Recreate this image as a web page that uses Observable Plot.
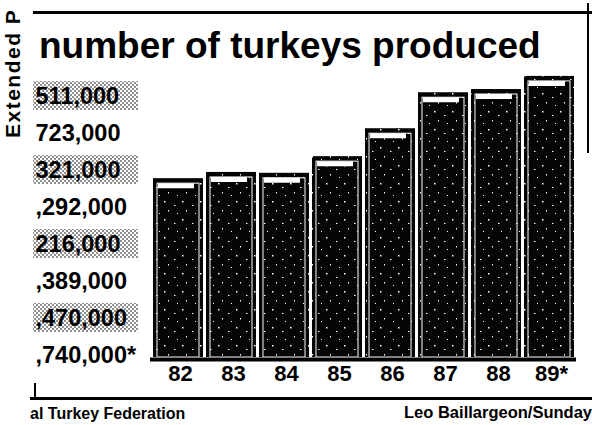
<!DOCTYPE html>
<html><head><meta charset="utf-8">
<script src="https://cdn.jsdelivr.net/npm/d3@7"></script>
<script src="https://cdn.jsdelivr.net/npm/@observablehq/plot@0.6"></script>
<style>
html,body{margin:0;padding:0;background:#fff;}
#wrap{position:relative;width:592px;height:425px;overflow:hidden;font-family:"Liberation Sans",Arial,sans-serif;color:#000;background:#fff;}
.abs{position:absolute;line-height:1;white-space:nowrap;}
#title{left:39px;top:27px;font-size:37px;font-weight:bold;}
#side{left:1.5px;top:138px;font-size:21px;font-weight:bold;letter-spacing:1.5px;transform:rotate(-90deg);transform-origin:left top;}
#srcL{left:30px;top:406px;font-size:16px;font-weight:bold;}
#srcR{right:0px;top:404px;font-size:16.5px;font-weight:bold;}
.rule{position:absolute;background:#000;}
#main,#left{position:absolute;left:0;top:0;}
</style></head><body>
<svg width="0" height="0" style="position:absolute">
<defs>
<pattern id="speck" width="18" height="18" patternUnits="userSpaceOnUse">
<rect width="18" height="18" fill="#050505"/>
<rect x="2" y="3" width="1.5" height="1.5" fill="#fff"/>
<rect x="12" y="7" width="1.5" height="1" fill="#fff"/>
<rect x="6" y="12" width="1" height="1.5" fill="#fff"/>
<rect x="15" y="15" width="1" height="1" fill="#fff"/>
</pattern>
<pattern id="stipple" width="4" height="4" patternUnits="userSpaceOnUse">
<rect width="4" height="4" fill="#fff"/>
<circle cx="1" cy="1" r="0.8" fill="#000"/>
<circle cx="3" cy="3" r="0.8" fill="#000"/>
</pattern>
</defs>
</svg>
<div id="wrap">
  <div class="rule" style="left:33px;top:11px;width:559px;height:3px;"></div>
  <div class="rule" style="left:587px;top:3px;width:2px;height:150px;"></div>
  <div class="rule" style="left:34px;top:383px;width:2px;height:15px;"></div>
  <div class="rule" style="left:30px;top:397px;width:562px;height:3px;"></div>
  <div id="main"></div>
  <div id="left"></div>
  <div class="abs" id="title">number of turkeys produced</div>
  <div class="abs" id="side">Extended P</div>
  <div class="abs" id="srcL">al Turkey Federation</div>
  <div class="abs" id="srcR">Leo Baillargeon/Sunday</div>
</div>
<script>
// Years (categories) and tick labels
const years = ["82", "83", "84", "85", "86", "87", "88", "89"];
const yearLabels = ["82", "83", "84", "85", "86", "87", "88", "89*"];
// Turkeys produced, millions
const produced = [166.5, 172.3, 171.5, 187, 213, 246.5, 249.5, 261.7];
// Side list of figures as printed (left part cut off in the clipping)
const sideLabels = ["511,000", "723,000", "321,000", ",292,000", "216,000", ",389,000", ",470,000", ",740,000*"];

const data = years.map((y, i) => ({year: y, value: produced[i], label: yearLabels[i]}));

const main = Plot.plot({
  width: 592, height: 425,
  marginLeft: 150, marginRight: 16, marginTop: 67, marginBottom: 68,
  style: {fontFamily: "'Liberation Sans', Arial, sans-serif", color: "#000", background: "transparent"},
  x: {type: "band", domain: years, paddingInner: 0.06, paddingOuter: 0.03, axis: null},
  y: {domain: [0, 270], axis: null},
  marks: [
    Plot.barY(data, {x: "year", y: "value", fill: "url(#speck)"}),
    Plot.barY(data, {x: "year", y: "value", fill: "none", stroke: "#fff", strokeWidth: 1, insetLeft: 4, insetRight: 4, insetTop: 5, insetBottom: 0}),
    Plot.tickY(data, {x: "year", y: "value", stroke: "#fff", strokeWidth: 5, dy: 7, insetLeft: 5, insetRight: 9}),
    Plot.ruleY([0], {stroke: "#000", strokeWidth: 4, dy: 2}),
    Plot.text(data, {x: "year", text: "label", frameAnchor: "bottom", lineAnchor: "top", dy: 8, dx: 2, fontSize: 22, fontWeight: "bold", fill: "#000"})
  ]
});
document.getElementById("main").appendChild(main);

const left = Plot.plot({
  width: 150, height: 425,
  marginLeft: 33, marginRight: 12, marginTop: 75, marginBottom: 51,
  style: {fontFamily: "'Liberation Sans', Arial, sans-serif", color: "#000", background: "transparent"},
  y: {type: "band", domain: sideLabels, padding: 0, axis: null},
  marks: [
    Plot.cell(sideLabels.filter((d, i) => i % 2 === 0), {y: d => d, fill: "url(#stipple)", insetTop: 4, insetBottom: 4}),
    Plot.text(sideLabels, {y: d => d, frameAnchor: "left", textAnchor: "start", dx: 2, fontSize: 23.5, fontWeight: "bold", fill: "#000"})
  ]
});
document.getElementById("left").appendChild(left);
</script>
</body></html>
